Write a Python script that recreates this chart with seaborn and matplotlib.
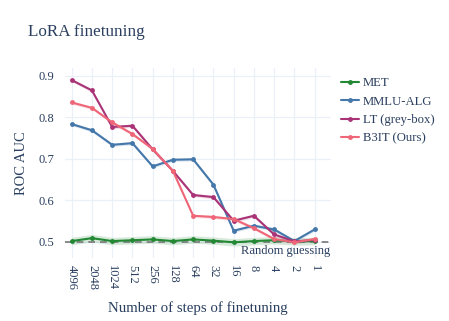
import numpy as np
import pandas as pd
import matplotlib.pyplot as plt
import seaborn as sns

steps = ["4096", "2048", "1024", "512", "256", "128", "64", "32", "16", "8", "4", "2", "1"]

met = [0.502, 0.509, 0.502, 0.504, 0.506, 0.502, 0.506, 0.503, 0.499, 0.502, 0.504, 0.501, 0.502]
mmlu_alg = [0.784, 0.769, 0.734, 0.738, 0.682, 0.698, 0.699, 0.638, 0.527, 0.539, 0.530, 0.502, 0.530]
lt_grey = [0.890, 0.865, 0.777, 0.780, 0.723, 0.671, 0.613, 0.608, 0.551, 0.563, 0.518, 0.501, 0.505]
b3it = [0.836, 0.823, 0.788, 0.760, 0.724, 0.671, 0.563, 0.560, 0.555, 0.533, 0.507, 0.499, 0.507]

# half-width of the shaded bands
met_err = 0.009
mmlu_err = 0.004
lt_err = 0.004
b3it_err = 0.004

names = ["MET", "MMLU-ALG", "LT (grey-box)", "B3IT (Ours)"]
colors = ["#228833", "#4477AA", "#AA3377", "#EE6677"]

series = [met, mmlu_alg, lt_grey, b3it]
errs = [met_err, mmlu_err, lt_err, b3it_err]

df = pd.DataFrame({
    "x": np.tile(np.arange(len(steps)), len(names)),
    "auc": np.concatenate(series),
    "method": np.repeat(names, len(steps)),
})

sns.set_style("white")
plt.rcParams["font.family"] = ["Liberation Serif", "DejaVu Serif"]
txt = "#2a3f5f"

fig = plt.figure(figsize=(4.49, 3.21), dpi=100)
ax = fig.add_axes([0.1448, 0.196, 0.592, 0.592])

xs = np.arange(len(steps))
for vals, e, c in zip(series, errs, colors):
    v = np.array(vals)
    ax.fill_between(xs, v - e, v + e, color=c, alpha=0.18, linewidth=0, zorder=2)

sns.lineplot(data=df, x="x", y="auc", hue="method", palette=colors,
             marker="o", markersize=3.5, markeredgewidth=0, linewidth=1.5,
             ax=ax, legend=False, zorder=3)

ax.axhline(0.5, color="#777777", linestyle=(0, (4, 3)), linewidth=1.2, zorder=2.5)
ax.text(12.75, 0.479, "Random guessing", ha="right", va="center", fontsize=9, color=txt)

ax.set_xlim(-0.33, 12.8)
ax.set_ylim(0.461, 0.919)
ax.set_xticks(xs)
ax.set_xticklabels(steps, rotation=-90)
ax.set_yticks([0.5, 0.6, 0.7, 0.8, 0.9])
ax.set_yticklabels(["0.5", "0.6", "0.7", "0.8", "0.9"])
ax.set_yticks([0.5], minor=True)
ax.tick_params(axis="both", which="major", length=0, labelsize=9, labelcolor=txt)
ax.tick_params(axis="x", pad=5)
ax.tick_params(axis="y", pad=8)
ax.tick_params(axis="y", which="minor", length=5, width=1, color="#444444", direction="out")
ax.grid(True, color="#EBF0F8", linewidth=0.9)
ax.set_axisbelow(True)
for s in ax.spines.values():
    s.set_visible(False)

ax.set_xlabel("Number of steps of finetuning", fontsize=10.7, color=txt, labelpad=8)
ax.set_ylabel("ROC AUC", fontsize=10.5, color=txt, labelpad=7)

fig.text(28 / 449, 1 - 32 / 321, "LoRA finetuning", fontsize=12.3, color=txt, ha="left", va="center")

handles = [plt.Line2D([0], [0], color=c, linewidth=1.5, marker="o", markersize=3.5, markeredgewidth=0)
           for c in colors]
fig.legend(handles, names, loc="upper left", bbox_to_anchor=(330 / 449, 1 - 66 / 321),
           frameon=False, fontsize=9.1, handlelength=1.4, handletextpad=0.3,
           labelspacing=0.5, labelcolor=txt)

plt.savefig("out.png", dpi=100)
plt.close()
